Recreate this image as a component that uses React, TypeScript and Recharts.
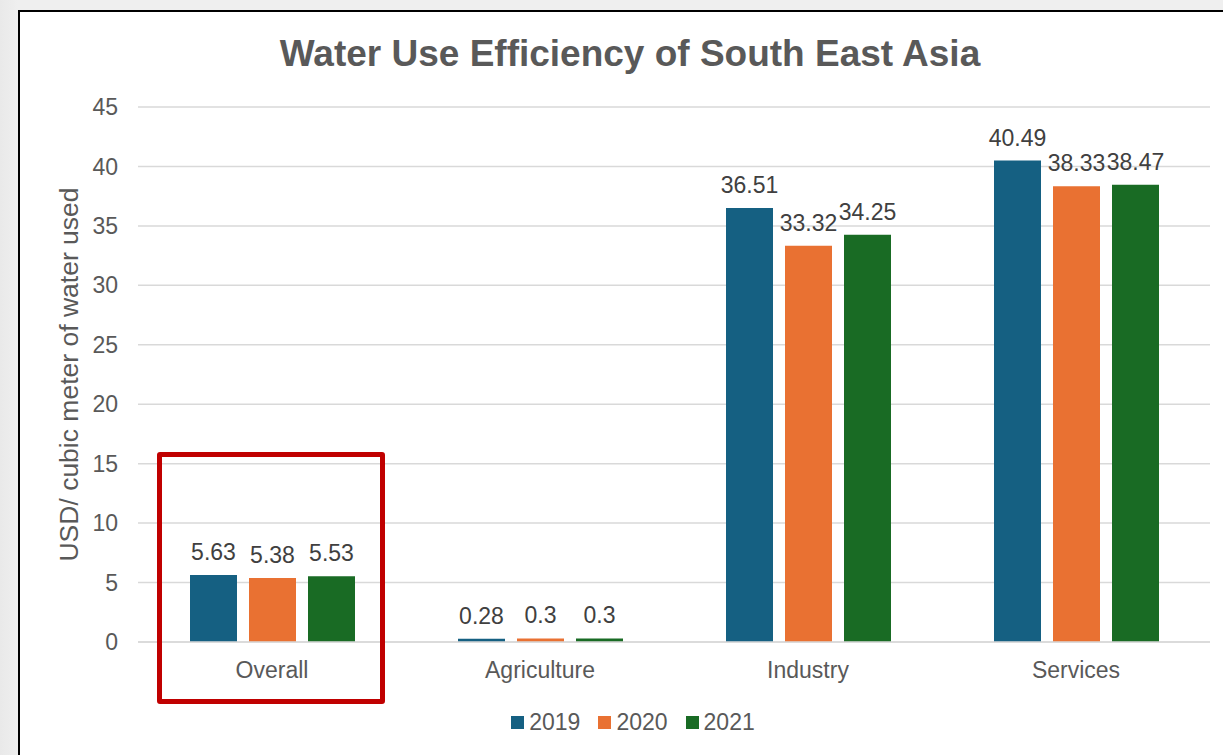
import React from 'react';
import { BarChart, Bar, XAxis, YAxis, CartesianGrid, LabelList, Label } from 'recharts';

const categories = ['Overall', 'Agriculture', 'Industry', 'Services'];
const years = ['2019', '2020', '2021'];
const values2019 = [5.63, 0.28, 36.51, 40.49];
const values2020 = [5.38, 0.3, 33.32, 38.33];
const values2021 = [5.53, 0.3, 34.25, 38.47];
const yTicks = [0, 5, 10, 15, 20, 25, 30, 35, 40, 45];

const colors = ['#156082', '#E97132', '#196B24'];
const FONT = '"Liberation Sans", Arial, sans-serif';

const data = categories.map((category, i) => ({
  category,
  '2019': values2019[i],
  '2020': values2020[i],
  '2021': values2021[i],
}));

const tickStyle = { fill: '#595959', fontSize: 23, fontFamily: FONT };

export default function App() {
  return (
    <div
      style={{
        position: 'absolute',
        left: 0,
        top: 0,
        width: 1223,
        height: 755,
        overflow: 'hidden',
        background: 'linear-gradient(90deg, #e9e9e9 0px, #efefef 18px)',
        fontFamily: FONT,
      }}
    >
      {/* chart frame */}
      <div
        style={{
          position: 'absolute',
          left: 18,
          top: 10,
          width: 1230,
          height: 760,
          boxSizing: 'border-box',
          border: '2.5px solid #000',
          background: '#fff',
        }}
      />

      <div
        style={{
          position: 'absolute',
          left: 0,
          top: 35,
          width: 1260,
          textAlign: 'center',
          fontSize: 37,
          lineHeight: 1,
          fontWeight: 700,
          color: '#595959',
          whiteSpace: 'nowrap',
        }}
      >
        Water Use Efficiency of South East Asia
      </div>

      <div style={{ position: 'absolute', left: 0, top: 0 }}>
        <BarChart
          width={1223}
          height={755}
          data={data}
          margin={{ top: 107, right: 13, bottom: 83, left: 0 }}
          barSize={47}
          barGap={12}
        >
          <CartesianGrid vertical={false} stroke="#d9d9d9" strokeWidth={1.5} />
          <XAxis
            dataKey="category"
            height={30}
            axisLine={{ stroke: '#d9d9d9', strokeWidth: 1.5 }}
            tickLine={false}
            tickSize={0}
            tickMargin={20}
            tick={tickStyle}
          />
          <YAxis
            width={138}
            domain={[0, 45]}
            ticks={yTicks}
            axisLine={false}
            tickLine={false}
            tickSize={0}
            tickMargin={20}
            tick={tickStyle}
          >
            <Label
              value="USD/ cubic meter of water used"
              angle={-90}
              position="center"
              style={{ fill: '#595959', fontSize: 26.5, fontFamily: FONT }}
            />
          </YAxis>
          {years.map((year, i) => (
            <Bar key={year} dataKey={year} fill={colors[i]} isAnimationActive={false}>
              <LabelList
                dataKey={year}
                position="top"
                offset={15}
                style={{ fill: '#404040', fontSize: 23, fontFamily: FONT }}
              />
            </Bar>
          ))}
        </BarChart>
      </div>

      {/* highlight around the Overall group */}
      <div
        style={{
          position: 'absolute',
          left: 157,
          top: 452,
          width: 228,
          height: 252,
          boxSizing: 'border-box',
          border: '5px solid #c00000',
          borderRadius: 3,
        }}
      />

      {/* legend */}
      <div
        style={{
          position: 'absolute',
          left: 0,
          top: 708,
          width: 1266,
          display: 'flex',
          justifyContent: 'center',
          gap: 18,
          fontSize: 23,
          lineHeight: '28px',
          color: '#595959',
        }}
      >
        {years.map((year, i) => (
          <div key={year} style={{ display: 'flex', alignItems: 'center', gap: 5 }}>
            <span style={{ width: 13, height: 13, background: colors[i], display: 'inline-block' }} />
            <span>{year}</span>
          </div>
        ))}
      </div>
    </div>
  );
}
